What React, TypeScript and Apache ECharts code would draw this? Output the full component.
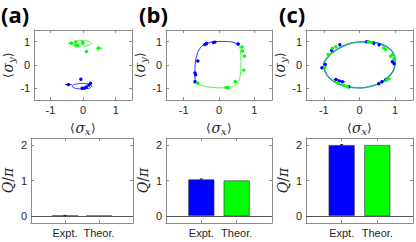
import React, { useEffect, useRef } from "react";
import * as echarts from "echarts";

// ---------- data ----------
const panelLabels = ["(a)", "(b)", "(c)"];
const barCategories = ["Expt.", "Theor."];
const ticksXY = [-1, 0, 1];
const ticksQ = [0, 1, 2];

// (a)
const curveBlueA = [[0.27,-0.91],[0.23,-0.85],[0.12,-0.81],[-0.03,-0.79],[-0.18,-0.81],[-0.29,-0.85],[-0.33,-0.91],[-0.29,-0.97],[-0.18,-1.01],[-0.03,-1.03],[0.12,-1.01],[0.23,-0.97],[0.27,-0.91]];
const curveGreenA = [[0.27,0.93],[0.23,0.99],[0.12,1.03],[-0.03,1.05],[-0.18,1.03],[-0.29,0.99],[-0.33,0.93],[-0.29,0.87],[-0.18,0.83],[-0.03,0.81],[0.12,0.83],[0.23,0.87],[0.27,0.93]];
const pointsBlueA = [[-0.07,-0.61,0,0],[-0.45,-0.84,0.1,0.06],[0.23,-0.78,0.02,0.03],[0.18,-0.86,0,0],[0.1,-0.94,0,0],[0.04,-0.99,0.03,0.05],[-0.03,-1.0,0,0]];
const pointsGreenA = [[-0.36,0.93,0.1,0.08],[-0.22,0.99,0,0],[-0.22,0.83,0,0],[-0.17,0.85,0,0],[-0.01,0.97,0.03,0.03],[0.0,0.93,0,0],[0.1,0.58,0.02,0.02],[0.48,0.72,0.1,0.1]];
const barsA = [0.005, 0];
const errA = 0.01;

// (b)
const curveBlueB = [[0.56,0.86],[0.45,0.95],[0.27,1.0],[0.08,1.01],[-0.11,1.0],[-0.3,0.95],[-0.45,0.85],[-0.56,0.66],[-0.63,0.4],[-0.67,0.1],[-0.68,-0.2],[-0.68,-0.5],[-0.66,-0.7],[-0.6,-0.8]];
const curveGreenB = [[-0.6,-0.8],[-0.45,-0.9],[-0.2,-0.96],[0.1,-0.98],[0.3,-0.96],[0.45,-0.88],[0.55,-0.7],[0.6,-0.45],[0.62,-0.1],[0.62,0.3],[0.61,0.6],[0.56,0.86]];
const pointsBlueB = [[0.54,0.9,0.06,0.06],[-0.12,0.98,0.04,0.02],[-0.16,0.96,0,0],[-0.35,0.92,0.03,0.02],[-0.4,0.88,0,0],[-0.6,0.17,0.04,0],[-0.68,-0.34,0.03,0.03],[-0.66,-0.42,0,0],[-0.68,-0.72,0.03,0.02]];
const pointsGreenB = [[0.65,0.77,0.04,0.05],[0.67,0.6,0,0],[0.72,0.38,0.05,0.06],[0.7,-0.22,0.03,0],[0.46,-0.72,0.05,0.04],[0.2,-0.96,0.03,0.02],[0.26,-0.97,0,0],[-0.6,-0.78,0.05,0.06]];
const barsB = [1.03, 1.0];
const errB = 0.015;

// (c)
const curveC = [[1.0,0.2],[0.95,0.5],[0.8,0.75],[0.55,0.92],[0.25,1.0],[-0.05,0.98],[-0.35,0.88],[-0.65,0.65],[-0.88,0.35],[-1.0,0.0],[-0.97,-0.25],[-0.85,-0.55],[-0.6,-0.8],[-0.3,-0.95],[0.0,-0.98],[0.3,-0.92],[0.6,-0.75],[0.85,-0.45],[0.98,-0.1],[1.0,0.2]];
const pointsBlueC = [[-0.55,0.87,0.03,0.03],[-0.78,0.62,0.03,0.03],[-0.96,0.02,0.03,0.05],[-1.05,-0.12,0.06,0.03],[-0.66,-0.62,0.06,0.05],[-0.57,-0.68,0.05,0.04],[-0.48,-0.72,0.08,0.03],[0.54,-0.8,0.04,0.03],[0.63,-0.72,0.04,0.03],[0.73,-0.64,0.03,0.03],[0.92,0.14,0.04,0.04],[0.97,0.05,0.03,0.03],[0.55,0.87,0.04,0.03],[0.4,0.93,0.04,0.03],[0.2,1.0,0.05,0.04],[-0.3,-0.93,0.03,0.02]];
const pointsGreenC = [[-0.76,0.72,0.05,0.04],[-0.66,0.78,0.04,0.04],[-0.88,0.45,0.03,0.03],[-0.97,-0.1,0.03,0.03],[-0.6,-0.78,0.05,0.05],[-0.43,-0.87,0.04,0.04],[-0.34,-0.93,0.04,0.03],[0.26,1.0,0.08,0.08],[0.33,0.97,0.05,0.04],[0.68,0.73,0.04,0.04],[0.73,0.66,0.03,0.03],[0.87,0.37,0.04,0.04],[0.92,0.44,0.04,0.04],[0.97,0.27,0.05,0.05],[0.82,-0.6,0.04,0.04],[0.75,-0.66,0.03,0.03]];
const barsC = [2.0, 2.0];
const errC = 0.015;

// ---------- styling ----------
const BLUE = "#0000ff";
const GREEN = "#00ff00";
const AXIS = "#8c8c8c";
const TXT = "#262626";
const FONT = "'Liberation Sans', Arial, sans-serif";

const scatterGrids = [
  { left: 28, top: 30, width: 104, height: 70 },
  { left: 166, top: 30, width: 106, height: 70 },
  { left: 306, top: 30, width: 107, height: 70 },
];
const barGrids = [
  { left: 28, top: 138, width: 105, height: 85 },
  { left: 166, top: 138, width: 106, height: 85 },
  { left: 306, top: 138, width: 107, height: 85 },
];

const rich = {
  s: { fontStyle: "italic", fontSize: 14, fontFamily: "'DejaVu Serif', serif", color: TXT },
  b: { fontSize: 14, fontFamily: "'DejaVu Serif', serif", color: TXT },
  sub: { fontStyle: "italic", fontSize: 10, fontFamily: "'DejaVu Serif', serif", color: TXT, padding: [7, 0, 0, 0] },
};

function errRender(color: string) {
  return (params: any, api: any) => {
    const x = api.value(0), y = api.value(1), xe = api.value(2), ye = api.value(3);
    const c = api.coord([x, y]);
    const children: any[] = [];
    if (xe > 0) {
      const a = api.coord([x - xe, y]), b = api.coord([x + xe, y]);
      children.push({ type: "line", shape: { x1: a[0], y1: a[1], x2: b[0], y2: b[1] }, style: { stroke: color, lineWidth: 1 } });
    }
    if (ye > 0) {
      const a = api.coord([x, y - ye]), b = api.coord([x, y + ye]);
      children.push({ type: "line", shape: { x1: a[0], y1: a[1], x2: b[0], y2: b[1] }, style: { stroke: color, lineWidth: 1 } });
    }
    children.push({ type: "circle", shape: { cx: c[0], cy: c[1], r: 1.7 }, style: { fill: color } });
    return { type: "group", children };
  };
}

function barErrRender(params: any, api: any) {
  const x = api.value(0), y = api.value(1), e = api.value(2);
  const a = api.coord([x, y - e]), b = api.coord([x, y + e]);
  return {
    type: "group",
    children: [
      { type: "line", shape: { x1: a[0], y1: a[1], x2: b[0], y2: b[1] }, style: { stroke: "#333", lineWidth: 1 } },
      { type: "line", shape: { x1: a[0] - 1.5, y1: a[1], x2: a[0] + 1.5, y2: a[1] }, style: { stroke: "#333", lineWidth: 1 } },
      { type: "line", shape: { x1: b[0] - 1.5, y1: b[1], x2: b[0] + 1.5, y2: b[1] }, style: { stroke: "#333", lineWidth: 1 } },
    ],
  };
}

function mkAxis(gridIndex: number, pos: string, min: number, max: number, ticks: number[], opts: any = {}) {
  const main = pos === "bottom" || pos === "left";
  return {
    type: "value",
    gridIndex,
    position: pos,
    min,
    max,
    axisLine: { show: true, onZero: false, lineStyle: { color: AXIS, width: 1 } },
    axisTick: { show: true, inside: true, length: 3, customValues: ticks, lineStyle: { color: AXIS } },
    axisLabel: {
      show: main,
      customValues: ticks,
      color: TXT,
      fontSize: 11,
      fontFamily: FONT,
      margin: 4,
      ...(opts.formatter ? { formatter: opts.formatter } : {}),
    },
    splitLine: { show: false },
    ...(main && opts.name
      ? {
          name: opts.name,
          nameLocation: "middle",
          nameGap: opts.nameGap,
          nameRotate: opts.nameRotate,
          nameTextStyle: { rich, color: TXT },
        }
      : {}),
  };
}

export default function App() {
  const ref = useRef<HTMLDivElement>(null);
  useEffect(() => {
    document.body.style.margin = "0";
    const chart = echarts.init(ref.current!, null, { renderer: "svg" });
    const grids: any[] = [...scatterGrids, ...barGrids];
    const xAxes: any[] = [];
    const yAxes: any[] = [];
    const series: any[] = [];

    const scatterSets = [
      { blueC: curveBlueA, greenC: curveGreenA, bp: pointsBlueA, gp: pointsGreenA },
      { blueC: curveBlueB, greenC: curveGreenB, bp: pointsBlueB, gp: pointsGreenB },
      { blueC: null, greenC: null, bp: pointsBlueC, gp: pointsGreenC },
    ];
    const barSets = [
      { v: barsA, e: errA },
      { v: barsB, e: errB },
      { v: barsC, e: errC },
    ];

    for (let i = 0; i < 3; i++) {
      xAxes.push(mkAxis(i, "bottom", -1.5, 1.5, ticksXY, { name: "⟨{s|σ}{sub|x}⟩", nameGap: 19 }));
      xAxes.push(mkAxis(i, "top", -1.5, 1.5, ticksXY));
      yAxes.push(mkAxis(i, "left", -1.5, 1.5, ticksXY, { name: "⟨{s|σ}{sub|y}⟩", nameGap: 17, nameRotate: 90 }));
      yAxes.push(mkAxis(i, "right", -1.5, 1.5, ticksXY));
      const ax = 2 * i;
      const set = scatterSets[i];
      if (set.blueC) {
        series.push({ type: "line", xAxisIndex: ax, yAxisIndex: ax, data: set.blueC, smooth: true, showSymbol: false, lineStyle: { color: "#2a2aff", width: 1 } });
      }
      if (set.greenC) {
        series.push({ type: "line", xAxisIndex: ax, yAxisIndex: ax, data: set.greenC, smooth: true, showSymbol: false, lineStyle: { color: "#55ee55", width: 1 } });
      }
      if (i === 2) {
        series.push({ type: "line", xAxisIndex: ax, yAxisIndex: ax, data: curveC, smooth: true, showSymbol: false, lineStyle: { color: "#3060ff", width: 1.4 } });
        series.push({ type: "line", xAxisIndex: ax, yAxisIndex: ax, data: curveC, smooth: true, showSymbol: false, lineStyle: { color: "#20c850", width: 1.1, opacity: 0.85 } });
      }
      series.push({ type: "custom", xAxisIndex: ax, yAxisIndex: ax, data: set.bp, renderItem: errRender(BLUE), z: 5 });
      series.push({ type: "custom", xAxisIndex: ax, yAxisIndex: ax, data: set.gp, renderItem: errRender(GREEN), z: 6 });
    }

    for (let i = 0; i < 3; i++) {
      const g = 3 + i;
      xAxes.push(mkAxis(g, "bottom", 0, 3, [1, 2], { formatter: (v: number) => barCategories[v - 1] ?? "" }));
      xAxes.push(mkAxis(g, "top", 0, 3, [1, 2]));
      yAxes.push(mkAxis(g, "left", -0.2, 2.2, ticksQ, { name: "{s|Q}{b|/}{s|π}", nameGap: 16, nameRotate: 90 }));
      yAxes.push(mkAxis(g, "right", -0.2, 2.2, ticksQ));
      const ax = 2 * g;
      const set = barSets[i];
      series.push({
        type: "bar",
        xAxisIndex: ax,
        yAxisIndex: ax,
        barWidth: 26,
        data: [
          { value: [1, set.v[0]], itemStyle: { color: BLUE, borderColor: "#333", borderWidth: 0.6 } },
          { value: [2, set.v[1]], itemStyle: { color: GREEN, borderColor: "#333", borderWidth: 0.6 } },
        ],
        markLine: {
          silent: true,
          symbol: ["none", "none"],
          label: { show: false },
          lineStyle: { color: "#555", width: 1, type: "solid" },
          data: [{ yAxis: 0 }],
        },
      });
      series.push({ type: "custom", xAxisIndex: ax, yAxisIndex: ax, data: [[1, set.v[0], set.e]], renderItem: barErrRender, z: 5 });
    }

    const titleX = [1, 139, 279];
    const graphic = panelLabels.map((t, i) => ({
      type: "text",
      left: titleX[i],
      top: 3,
      style: { text: t, fontSize: 22, fontWeight: "bold", fontFamily: "'Open Sans', sans-serif", fill: "#000" },
    }));

    chart.setOption({
      animation: false,
      grid: grids.map((g) => ({ ...g, containLabel: false })),
      xAxis: xAxes,
      yAxis: yAxes,
      series,
      graphic,
    });
    return () => chart.dispose();
  }, []);
  return <div ref={ref} style={{ width: 416, height: 242 }} />;
}
